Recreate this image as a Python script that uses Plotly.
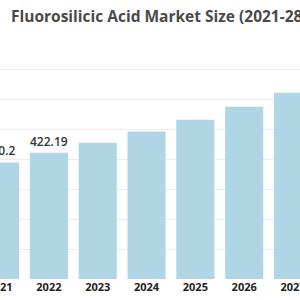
import plotly.graph_objects as go

years = ["2021", "2022", "2023", "2024", "2025", "2026", "2027", "2028"]
values = [390.2, 422.19, 456.4, 493.4, 533.4, 576.6, 623.3, 673.8]
labels = ["390.2", "422.19", "", "", "", "", "", "673.8"]

fig = go.Figure(go.Bar(
    x=years, y=values, text=labels, textposition="outside",
    constraintext="none",
    marker=dict(color="#b0d5e5", line=dict(width=0)),
    textfont=dict(family="Open Sans", size=12, color="#333333", weight=600),
    cliponaxis=False,
))

fig.update_layout(
    template="none",
    width=300, height=300,
    margin=dict(l=0, r=0, t=40, b=21, pad=0),
    paper_bgcolor="white", plot_bgcolor="white",
    bargap=0.22,
    showlegend=False,
    title=dict(text="<b>Fluorosilicic Acid Market Size (2021-28)</b>",
               x=11/300, xanchor="left", xref="paper",
               y=1 - 17/300, yanchor="middle", yref="container",
               font=dict(family="Open Sans", size=15.5, color="#4a4a4a")),
    xaxis=dict(range=[-0.001, 6.143], type="category", showgrid=False,
               showline=False, ticks="", automargin=False, zeroline=False,
               tickfont=dict(family="Open Sans", size=11, color="#222222", weight="bold")),
    yaxis=dict(range=[0, 800], dtick=100, showticklabels=False, automargin=False,
               gridcolor="#ebebeb", gridwidth=1, zeroline=False, showline=False),
)

fig.write_html("out.html")
